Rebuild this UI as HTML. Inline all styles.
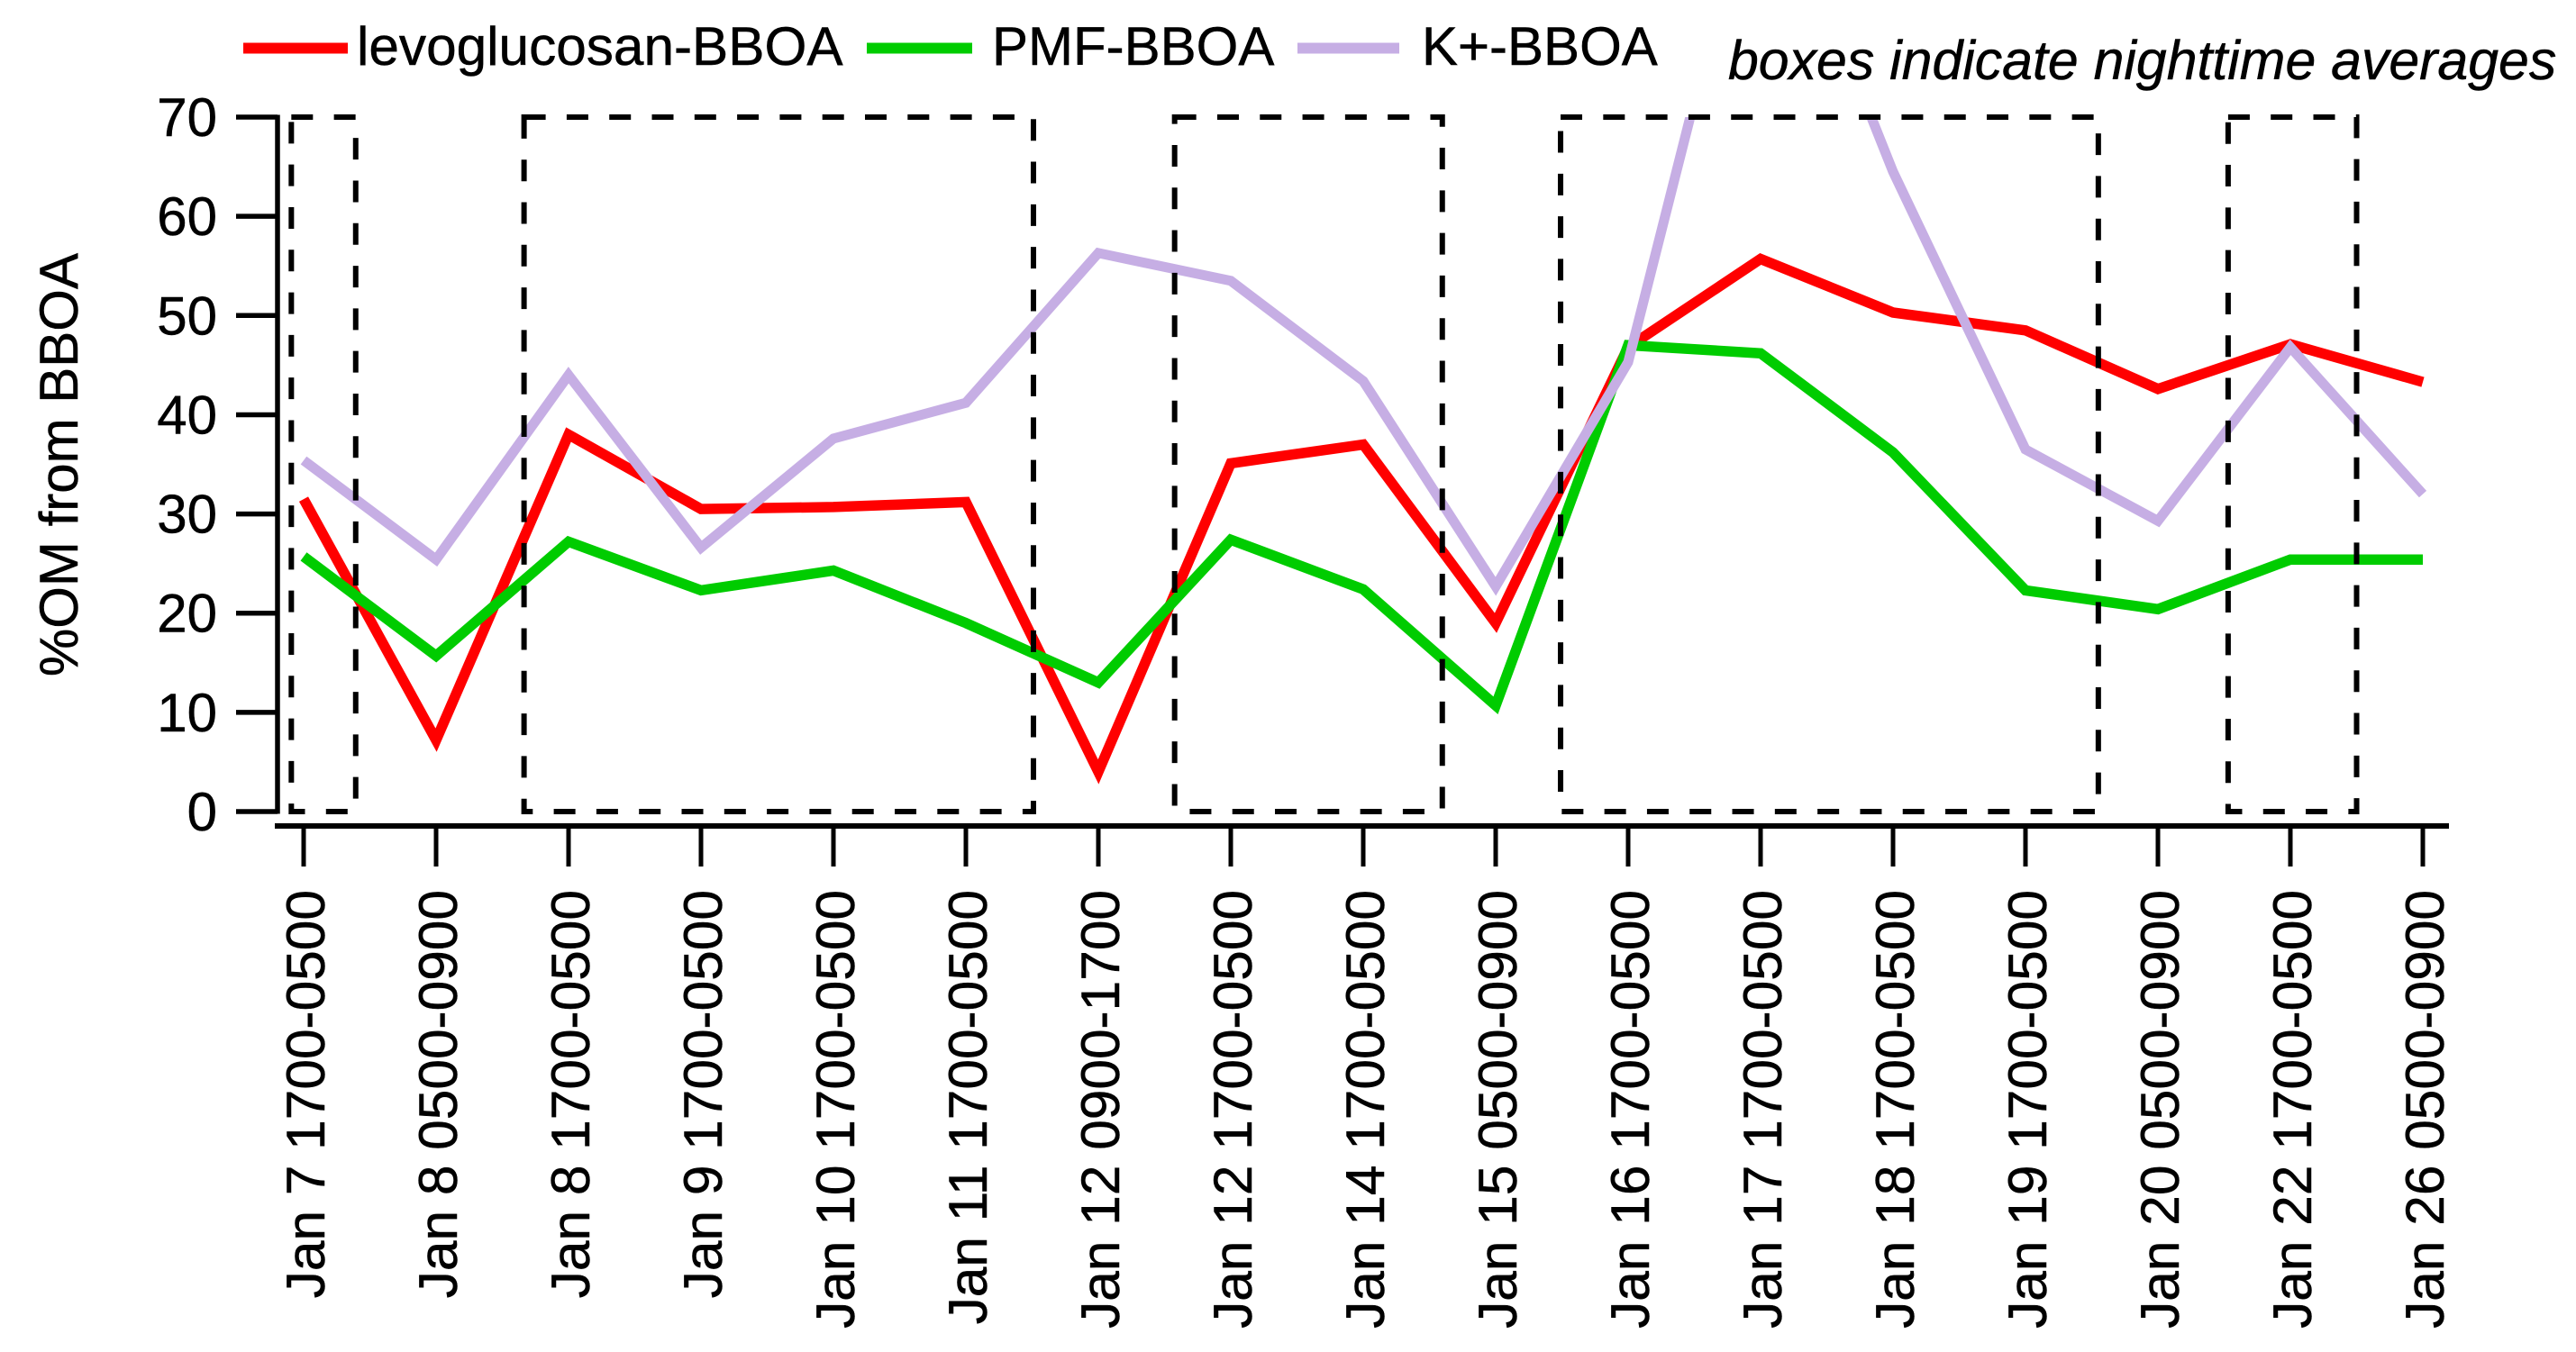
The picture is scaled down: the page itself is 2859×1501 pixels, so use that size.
<!DOCTYPE html>
<html lang="en">
<head>
<meta charset="utf-8">
<title>%OM from BBOA</title>
<style>
html,body{margin:0;padding:0;background:#fff;}
svg{display:block;font-family:"Liberation Sans",Arial,sans-serif;fill:#000;}
text{stroke:#000;stroke-width:0.5px;}
</style>
</head>
<body>
<svg id="chart" xmlns="http://www.w3.org/2000/svg" width="2859" height="1501" viewBox="0 0 2859 1501">
<defs><clipPath id="plot-clip"><rect x="300" y="130" width="2430" height="780"/></clipPath></defs>
<rect x="0" y="0" width="2859" height="1501" fill="#fff"/>
<g id="series" clip-path="url(#plot-clip)"></g>
<g id="boxes"></g>
<g id="axes"></g>
<text transform="translate(86,281) rotate(-90)" text-anchor="end" font-size="60">%OM from BBOA</text>
<g>
<rect x="270" y="47.5" width="116" height="12" fill="#ff0000"/>
<text x="396" y="72" font-size="60.3">levoglucosan-BBOA</text>
<rect x="962" y="47.5" width="117" height="12" fill="#00cc00"/>
<text x="1101" y="72" font-size="60">PMF-BBOA</text>
<rect x="1440" y="47.5" width="113" height="12" fill="#c6aee4"/>
<text x="1578" y="72" font-size="60">K+-BBOA</text>
</g>
<text x="1918" y="88" font-size="60.8" font-style="italic">boxes indicate nighttime averages</text>
</svg>
<script>
const categories = ["Jan 7 1700-0500","Jan 8 0500-0900","Jan 8 1700-0500","Jan 9 1700-0500","Jan 10 1700-0500","Jan 11 1700-0500","Jan 12 0900-1700","Jan 12 1700-0500","Jan 14 1700-0500","Jan 15 0500-0900","Jan 16 1700-0500","Jan 17 1700-0500","Jan 18 1700-0500","Jan 19 1700-0500","Jan 20 0500-0900","Jan 22 1700-0500","Jan 26 0500-0900"];
const levoglucosan = [31.5,7.2,38,30.5,30.7,31.2,4,35.1,37,19,46.8,55.7,50.3,48.5,42.6,47.1,43.3];
const pmf = [25.7,15.7,27.2,22.3,24.3,19,13,27.4,22.4,10.7,47,46.2,36.2,22.3,20.4,25.4,25.4];
const potassium = [35.4,25.4,44,26.6,37.6,41.2,56.3,53.5,43.4,22.7,45.3,98,64.5,36.5,29.3,46.8,32];
const yTicks = [0,10,20,30,40,50,60,70];
const nightStart = [-0.093,1.664,6.576,9.49,14.53];
const nightEnd = [0.393,5.51,8.597,13.55,15.5];

const NS = "http://www.w3.org/2000/svg";
const xScale = i => 337 + 147 * i;
const yScale = v => 901 - 11.014 * v;
function mk(tag, attrs, parent){
  const e = document.createElementNS(NS, tag);
  for (const k in attrs) e.setAttribute(k, attrs[k]);
  parent.appendChild(e);
  return e;
}
const seriesG = document.getElementById("series");
const boxesG = document.getElementById("boxes");
const axesG = document.getElementById("axes");

function drawSeries(values, color, width, name){
  const d = values.map((v,i)=>(i?"L":"M")+xScale(i).toFixed(1)+" "+yScale(v).toFixed(1)).join(" ");
  const p = mk("path",{d:d,fill:"none",stroke:color,"stroke-width":width,"stroke-linejoin":"miter","stroke-miterlimit":10},seriesG);
  
  
}
drawSeries(levoglucosan,"#ff0000",11.5,"series-levoglucosan-bboa");
drawSeries(pmf,"#00cc00",11.5,"series-pmf-bboa");
drawSeries(potassium,"#c6aee4",11,"series-k-bboa");

nightStart.forEach((s,i)=>{
  const x0 = xScale(s), x1 = xScale(nightEnd[i]), top = yScale(70), bot = yScale(0);
  const b = mk("path",{d:`M${x0} ${top} L${x1} ${top} L${x1} ${bot} L${x0} ${bot} Z`,fill:"none",stroke:"#000","stroke-width":6,"stroke-dasharray":"24 23.3"},boxesG);
  
  
});

const yAxisLine = mk("line",{x1:308,x2:308,y1:yScale(70)-2.5,y2:yScale(0)+2.5,stroke:"#000","stroke-width":5.5},axesG);


yTicks.forEach(v=>{
  const t = mk("line",{x1:262,x2:308,y1:yScale(v),y2:yScale(v),stroke:"#000","stroke-width":5.5},axesG);
  
  
  const l = mk("text",{x:241,y:yScale(v)+21,"text-anchor":"end","font-size":60},axesG);
  
  
  l.textContent = v;
});
const xAxisLine = mk("line",{x1:305,x2:2718,y1:917,y2:917,stroke:"#000","stroke-width":6},axesG);


categories.forEach((c,i)=>{
  const x = xScale(i);
  const t = mk("line",{x1:x,x2:x,y1:917,y2:962,stroke:"#000","stroke-width":5},axesG);
  
  
  const l = mk("text",{transform:`translate(${x+23},988) rotate(-90)`,"text-anchor":"end","font-size":60.4},axesG);
  
  
  l.textContent = c;
});
</script>
</body>
</html>
